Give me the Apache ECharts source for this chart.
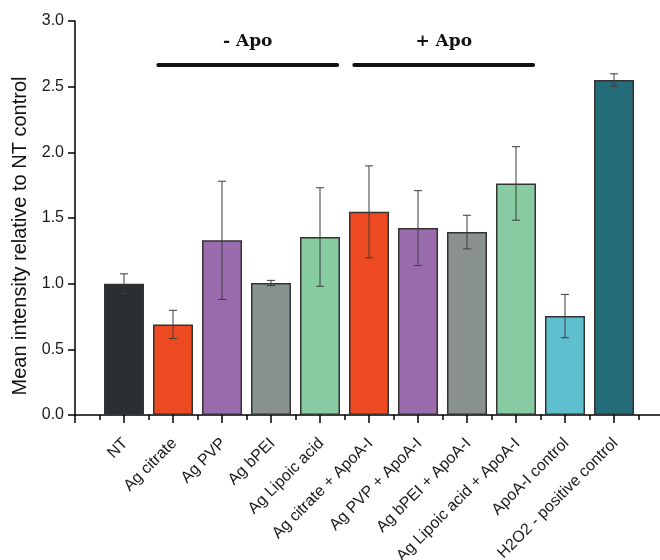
<!DOCTYPE html>
<html>
<head>
<meta charset="utf-8">
<script src="https://cdn.jsdelivr.net/npm/echarts@6/dist/echarts.min.js"></script>
<style>
html,body{margin:0;padding:0;background:#fff;overflow:hidden;width:660px;height:560px;}
#chart{width:663px;height:560px;}
</style>
</head>
<body>
<div id="chart"></div>
<script>
const categories = ['NT', 'Ag citrate', 'Ag PVP', 'Ag bPEI', 'Ag Lipoic acid',
  'Ag citrate + ApoA-I', 'Ag PVP + ApoA-I', 'Ag bPEI + ApoA-I',
  'Ag Lipoic acid + ApoA-I', 'ApoA-I control', 'H2O2 - positive control'];
const means = [1.00, 0.69, 1.33, 1.005, 1.355, 1.547, 1.423, 1.393, 1.763, 0.753, 2.55];
const errors = [0.075, 0.107, 0.45, 0.02, 0.375, 0.35, 0.285, 0.128, 0.28, 0.165, 0.048];
const barColors = ['#2b2f31', '#ee4a22', '#9a6cae', '#8a9291', '#86cba1',
  '#ee4a22', '#9a6cae', '#8a9291', '#86cba1', '#5fbfce', '#236c78'];
const groups = [
  { name: '- Apo', first: 2, last: 5 },
  { name: '+ Apo', first: 6, last: 9 }
];
const groupLineLevel = 2.664;

const chart = echarts.init(document.getElementById('chart'), null, { renderer: 'canvas' });

const barData = means.map((v, i) => ({
  value: [i + 1, v],
  itemStyle: { color: barColors[i] }
}));
const errData = means.map((v, i) => [i + 1, v - errors[i], v + errors[i]]);

const markLines = groups.map(g => [
  { coord: [g.first - 0.3, groupLineLevel], label: { formatter: g.name } },
  { coord: [g.last + 0.35, groupLineLevel] }
]);

chart.setOption({
  animation: false,
  backgroundColor: '#fff',
  grid: { left: 75, right: 0, top: 21, bottom: 145, containLabel: false, outerBoundsMode: 'none' },
  xAxis: {
    type: 'value',
    min: 0, max: 12, interval: 1,
    splitLine: { show: false },
    axisLine: { show: true, onZero: false, lineStyle: { color: '#000', width: 1.5 } },
    axisTick: { show: true, length: 8, lineStyle: { color: '#000', width: 1.5 } },
    minorTick: { show: true, splitNumber: 2, length: 5, lineStyle: { color: '#000', width: 1.5 } },
    minorSplitLine: { show: false },
    axisLabel: {
      rotate: 45,
      margin: 16,
      align: 'right',
      verticalAlign: 'top',
      padding: [0, 6, 0, 0],
      fontFamily: 'Liberation Sans',
      fontSize: 16,
      color: '#1a1a1a',
      formatter: v => categories[v - 1] || ''
    }
  },
  yAxis: {
    type: 'value',
    min: 0, max: 3, interval: 0.5,
    splitLine: { show: false },
    axisLine: { show: true, lineStyle: { color: '#000', width: 1.5 } },
    axisTick: { show: true, length: 7, lineStyle: { color: '#000', width: 1.5 } },
    axisLabel: {
      margin: 11,
      fontFamily: 'Liberation Sans',
      fontSize: 16,
      color: '#1a1a1a',
      formatter: v => v.toFixed(1)
    },
    name: 'Mean intensity relative to NT control',
    nameLocation: 'middle',
    nameGap: 43,
    nameTextStyle: {
      fontFamily: 'Liberation Sans',
      fontSize: 20,
      color: '#111',
      padding: [0, 36, 0, 0]
    }
  },
  series: [
    {
      type: 'bar',
      barWidth: 40,
      data: barData,
      itemStyle: { borderColor: '#333', borderWidth: 1.5 },
      markLine: {
        silent: true,
        symbol: ['none', 'none'],
        lineStyle: { color: '#111', width: 4, type: 'solid', cap: 'round' },
        label: {
          show: true,
          position: 'middle',
          distance: 15,
          fontFamily: 'DejaVu Serif',
          fontWeight: 'bold',
          fontSize: 17,
          color: '#111'
        },
        data: markLines
      }
    },
    {
      type: 'custom',
      data: errData,
      z: 5,
      renderItem: (params, api) => {
        const x = api.value(0);
        const lo = api.coord([x, api.value(1)]);
        const hi = api.coord([x, api.value(2)]);
        const cap = 4;
        const style = { stroke: '#3c3c3c', lineWidth: 1 };
        return {
          type: 'group',
          children: [
            { type: 'line', shape: { x1: lo[0], y1: lo[1], x2: hi[0], y2: hi[1] }, style },
            { type: 'line', shape: { x1: hi[0] - cap, y1: hi[1], x2: hi[0] + cap, y2: hi[1] }, style },
            { type: 'line', shape: { x1: lo[0] - cap, y1: lo[1], x2: lo[0] + cap, y2: lo[1] }, style }
          ]
        };
      }
    }
  ]
});
</script>
</body>
</html>
